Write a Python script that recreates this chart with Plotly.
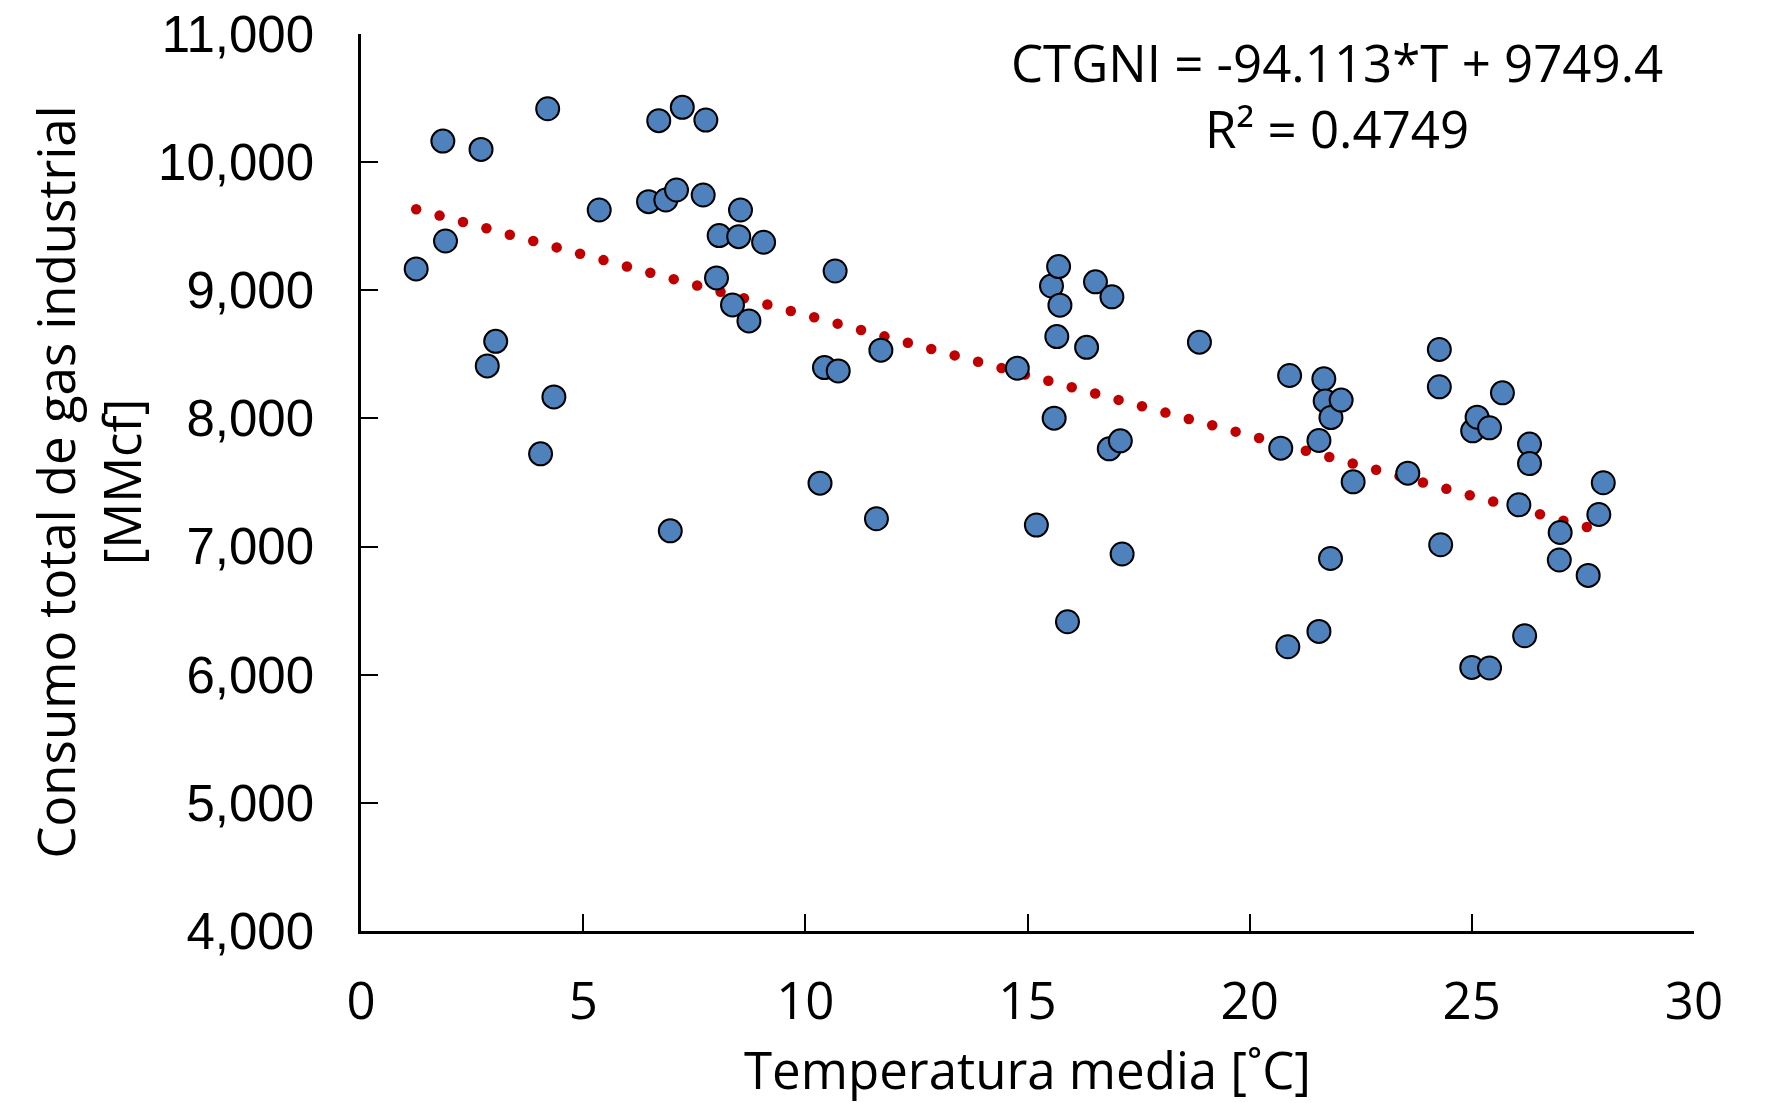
import numpy as np
import plotly.graph_objects as go

# Monthly mean temperature [°C] and total industrial natural-gas consumption [MMcf]
temperatura = [
    1.24, 1.84, 1.90, 2.70, 2.84, 3.03, 4.04, 4.20, 4.34, 5.36,
    6.47, 6.70, 6.86, 6.96, 7.10, 7.23, 7.70, 7.76, 8.00, 8.06,
    8.36, 8.50, 8.54, 8.73, 9.06, 10.33, 10.43, 10.67, 10.74, 11.60,
    11.70, 14.77, 15.20, 15.54, 15.60, 15.66, 15.70, 15.73, 15.90, 16.33,
    16.53, 16.84, 16.90, 17.09, 17.13, 18.87, 20.70, 20.86, 20.90, 21.56,
    21.56, 21.67, 21.70, 21.82, 21.83, 22.06, 22.33, 23.56, 24.27, 24.27,
    24.30, 25.00, 25.02, 25.12, 25.40, 25.40, 25.69, 26.06, 26.19, 26.30,
    26.30, 26.97, 26.99, 27.62, 27.86, 27.96,
]
consumo = [
    9167, 10165, 9385, 10100, 8410, 8602, 7724, 10417, 8168, 9627,
    9692, 10324, 9705, 7123, 9783, 10428, 9744, 10329, 9097, 9427,
    8886, 9419, 9627, 8761, 9375, 7495, 8397, 9151, 8371, 7217,
    8533, 8392, 7168, 9034, 8002, 8639, 9185, 8884, 6413, 8555,
    9066, 7763, 8949, 7825, 6942, 8595, 7768, 6218, 8335, 7828,
    6338, 8309, 8137, 6907, 8007, 8143, 7505, 7573, 8538, 8247,
    7014, 6057, 7903, 8010, 7927, 6052, 8200, 7326, 6304, 7800,
    7648, 6895, 7110, 6775, 7250, 7498,
]

# Linear fit reported on the chart
pendiente = -94.113
intercepto = 9749.4
r2 = 0.4749

y_ticks = [4000, 5000, 6000, 7000, 8000, 9000, 10000, 11000]
x_ticks = [0, 5, 10, 15, 20, 25, 30]

FONT = "Open Sans"
FONT_Y = "Liberation Sans"
FS = 51

# Round-dotted trend line: dots spaced evenly between the extreme temperatures
t_fit = np.arange(min(temperatura), max(temperatura), 0.527)
c_fit = pendiente * t_fit + intercepto

fig = go.Figure()
fig.add_trace(go.Scatter(
    x=t_fit, y=c_fit, mode="markers",
    marker=dict(size=10.5, color="#C00000", line=dict(width=0)),
    hoverinfo="skip", showlegend=False,
))
fig.add_trace(go.Scatter(
    x=temperatura, y=consumo, mode="markers",
    marker=dict(size=23, color="#4F81BD", line=dict(width=2, color="#000000")),
    showlegend=False,
))

axis_common = dict(
    showline=True, linecolor="#000000", linewidth=2.5,
    ticks="inside", ticklen=17, tickwidth=2, tickcolor="#000000",
    showgrid=False, zeroline=False, mirror=False,
    ticklabeloverflow="allow", automargin=False,
)

# tiny padding on the ranges keeps the end ticks (30 and 11,000) drawn
fig.update_xaxes(range=[-0.002, 30.002], tickvals=x_ticks, ticklabelstandoff=24,
                 tickfont=dict(family=FONT, size=FS, color="#000000"),
                 **axis_common)
fig.update_yaxes(range=[3999.5, 11000.5], tickvals=y_ticks, tickformat=",",
                 ticklabelstandoff=34,
                 tickfont=dict(family=FONT_Y, size=FS, color="#000000"),
                 **axis_common)

# Regression equation and coefficient of determination
fig.add_annotation(
    text=f"CTGNI = {pendiente}*T + {intercepto}<br>R² = {r2}",
    xref="paper", yref="paper", x=0.732, y=1.0, yshift=-61,
    xanchor="center", yanchor="middle", align="center", showarrow=False,
    font=dict(family=FONT, size=FS, color="#000000"),
)
fig.add_annotation(
    text="Temperatura media [˚C]",
    xref="paper", yref="paper", x=0.5, y=0.0, yshift=-138,
    xanchor="center", yanchor="middle", showarrow=False,
    font=dict(family=FONT, size=FS, color="#000000"),
)
fig.add_annotation(
    text="Consumo total de gas industrial<br>[MMcf]",
    xref="paper", yref="paper", x=0.0, y=0.5, xshift=-274,
    xanchor="center", yanchor="middle", textangle=-90, showarrow=False,
    font=dict(family=FONT, size=FS, color="#000000"),
)

fig.update_layout(
    width=1771, height=1103,
    margin=dict(l=361, r=77, t=34, b=172),
    paper_bgcolor="#FFFFFF", plot_bgcolor="#FFFFFF",
    showlegend=False,
)

fig.write_html("out.html")
